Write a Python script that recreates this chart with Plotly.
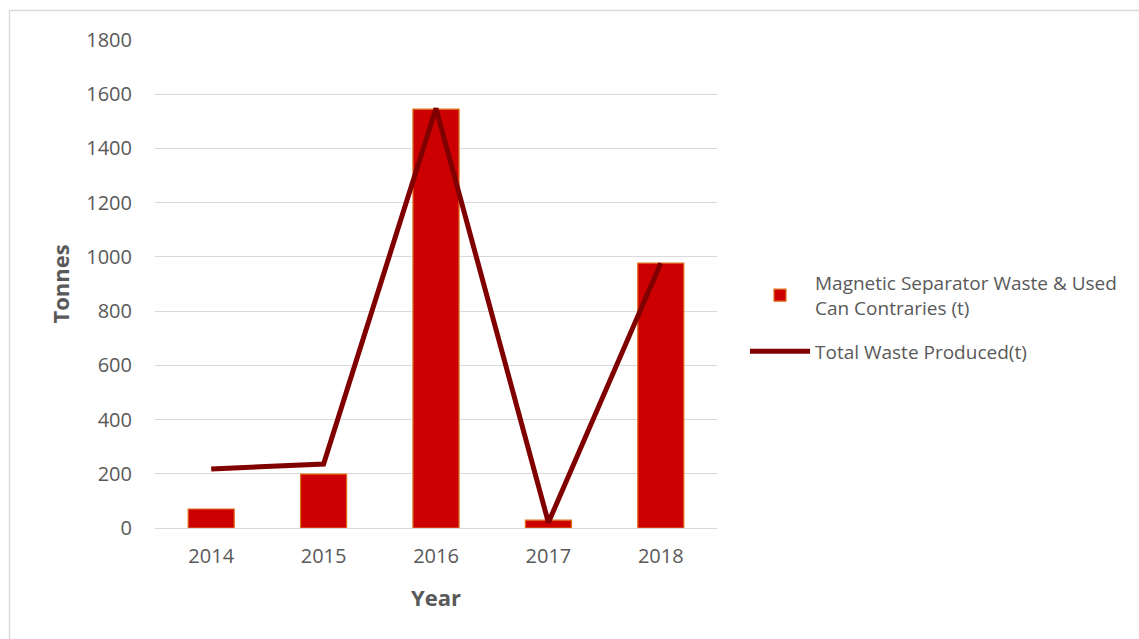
import plotly.graph_objects as go

years = ["2014", "2015", "2016", "2017", "2018"]
magnetic_waste = [70, 199, 1545, 29, 977]
total_waste = [218, 236, 1548, 20, 977]
y_ticks = [0, 200, 400, 600, 800, 1000, 1200, 1400, 1600, 1800]

W, H = 1139, 639
ML, MR, MT, MB = 155, 422, 40, 111
PW = W - ML - MR
PH = H - MT - MB

def px_x(px):
    return (px - ML) / PW

def px_y(py):
    return (H - MB - py) / PH

font_family = "Open Sans, Liberation Sans, sans-serif"
text_gray = "#595959"

fig = go.Figure()
fig.add_trace(go.Bar(
    x=years, y=magnetic_waste,
    name="Magnetic Separator Waste & Used<br>Can Contraries (t)",
    marker=dict(color="#CC0000", line=dict(color="#E0701E", width=1.2)),
    width=0.41,
    legendgroup="a",
))
fig.add_trace(go.Scatter(
    x=years, y=total_waste,
    name="Total Waste Produced(t)",
    mode="lines",
    line=dict(color="#800000", width=5),
    legendgroup="b",
))

fig.update_layout(
    width=W, height=H,
    margin=dict(l=ML, r=MR, t=MT, b=MB),
    paper_bgcolor="white", plot_bgcolor="white",
    font=dict(family=font_family, color=text_gray, size=19),
    showlegend=True,
    legend=dict(
        x=px_x(745), y=px_y(264), xanchor="left", yanchor="top",
        font=dict(size=19, color=text_gray),
        tracegroupgap=16,
        itemwidth=60,
    ),
    xaxis=dict(
        showgrid=False, showline=False, ticks="",
        tickfont=dict(size=20, color=text_gray),
        ticklabelstandoff=14,
        title=dict(text="<b>Year</b>", font=dict(size=22, color=text_gray), standoff=22),
    ),
    yaxis=dict(
        range=[0, 1800], tickvals=y_ticks,
        showgrid=True, gridcolor="#D9D9D9", gridwidth=1.3,
        zeroline=True, zerolinecolor="#D9D9D9", zerolinewidth=1.3,
        showline=False, ticks="",
        tickfont=dict(size=20, color=text_gray),
        ticklabelstandoff=22,
        title=dict(text="<b>Tonnes</b>", font=dict(size=22, color=text_gray), standoff=10),
    ),
    bargap=0.59,
)

# chart border (outer frame)
fig.add_shape(
    type="rect", xref="paper", yref="paper",
    x0=px_x(9.5), x1=px_x(W + 5), y0=px_y(H + 5), y1=px_y(10.5),
    line=dict(color="#D9D9D9", width=1.5), fillcolor="rgba(0,0,0,0)",
    layer="below",
)

fig.write_html("out.html")
